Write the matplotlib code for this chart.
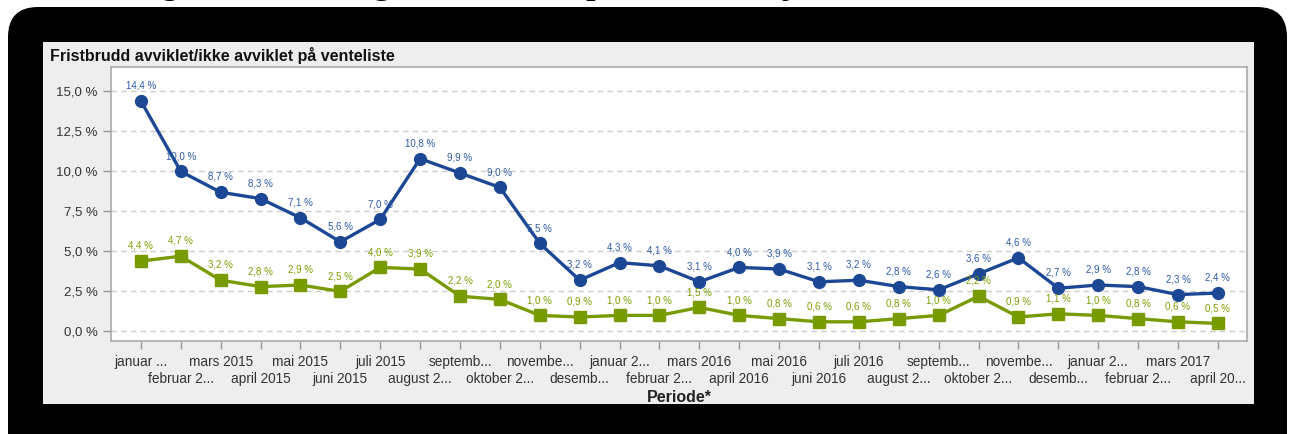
import matplotlib.pyplot as plt
from matplotlib.patches import FancyBboxPatch, Rectangle

plt.rcParams['font.family'] = ['Liberation Sans', 'DejaVu Sans']

perioder = ['januar ...', 'februar 2...', 'mars 2015', 'april 2015', 'mai 2015',
            'juni 2015', 'juli 2015', 'august 2...', 'septemb...', 'oktober 2...',
            'novembe...', 'desemb...', 'januar 2...', 'februar 2...', 'mars 2016',
            'april 2016', 'mai 2016', 'juni 2016', 'juli 2016', 'august 2...',
            'septemb...', 'oktober 2...', 'novembe...', 'desemb...', 'januar 2...',
            'februar 2...', 'mars 2017', 'april 20...']

ikke_avviklet = [14.4, 10.0, 8.7, 8.3, 7.1, 5.6, 7.0, 10.8, 9.9, 9.0, 5.5, 3.2, 4.3, 4.1,
                 3.1, 4.0, 3.9, 3.1, 3.2, 2.8, 2.6, 3.6, 4.6, 2.7, 2.9, 2.8, 2.3, 2.4]
avviklet = [4.4, 4.7, 3.2, 2.8, 2.9, 2.5, 4.0, 3.9, 2.2, 2.0, 1.0, 0.9, 1.0, 1.0,
            1.5, 1.0, 0.8, 0.6, 0.6, 0.8, 1.0, 2.2, 0.9, 1.1, 1.0, 0.8, 0.6, 0.5]

W, H = 1295, 434
fig = plt.figure(figsize=(W / 100, H / 100), dpi=100)
fig.patch.set_facecolor('white')


def px(x0, y0, x1, y1):
    # pixel box (top-left origin) -> figure fraction rect
    return [x0 / W, 1 - y1 / H, (x1 - x0) / W, (y1 - y0) / H]


# background layer in pixel units
bg = fig.add_axes([0, 0, 1, 1], zorder=0)
bg.set_xlim(0, W)
bg.set_ylim(H, 0)
bg.axis('off')
bg.add_patch(FancyBboxPatch((38, 37), 1287 - 38 - 30, 470 - 37 - 30,
                            boxstyle='round,pad=30', facecolor='black', edgecolor='none'))
bg.add_patch(Rectangle((43, 42), 1254 - 43, 404 - 42, facecolor='#eeeeee',
                       edgecolor='none'))

# page heading above the frame, only the descenders show
fig.text(45 / W, 1 + 6 / H, 'Utvikling i ventetider og fristbrudd i spesialisthelsetjenesten',
         fontsize=24, fontweight='bold', family='Liberation Serif',
         va='baseline', ha='left', color='black')

fig.text(50 / W, 1 - 55 / H, 'Fristbrudd avviklet/ikke avviklet på venteliste',
         fontsize=11.5, fontweight='bold', va='center', ha='left', color='#111111')

ax = fig.add_axes(px(111, 67, 1247, 341), zorder=2)
ax.set_facecolor('white')
x = list(range(len(perioder)))

blue = '#1c4795'
green = '#789c00'
ax.plot(x, ikke_avviklet, color=blue, lw=2.4, marker='o', ms=8.5, zorder=4)
ax.plot(x, avviklet, color=green, lw=2.4, marker='s', ms=9, zorder=3)

for xi, v in zip(x, ikke_avviklet):
    ax.annotate(f'{v:.1f} %'.replace('.', ','), (xi, v), xytext=(0, 11),
                textcoords='offset points', ha='center', va='center',
                fontsize=7, color='#2f5aa8', zorder=5)
for xi, v in zip(x, avviklet):
    ax.annotate(f'{v:.1f} %'.replace('.', ','), (xi, v), xytext=(0, 11),
                textcoords='offset points', ha='center', va='center',
                fontsize=7, color='#7c9e00', zorder=5)

ax.set_xlim(-0.75, 27.73)
ax.set_ylim(-0.6, 16.53)
yt = [0, 2.5, 5, 7.5, 10, 12.5, 15]
ax.set_yticks(yt)
ax.set_yticklabels([f'{v:.1f} %'.replace('.', ',') for v in yt], fontsize=9.5,
                   color='#333333')

# alternate month labels on two rows
ax.set_xticks(x[0::2])
ax.set_xticklabels(perioder[0::2], fontsize=9.8, color='#333333')
ax.set_xticks(x[1::2], minor=True)
ax.set_xticklabels(perioder[1::2], minor=True, fontsize=9.8, color='#333333')
ax.tick_params(axis='both', which='both', color='#999999', length=6, width=1)
ax.tick_params(axis='x', which='major', pad=4)
ax.tick_params(axis='x', which='minor', pad=16.5)
ax.grid(axis='y', color='#cccccc', ls=(0, (4, 3)), lw=1)
ax.set_axisbelow(True)
for s in ax.spines.values():
    s.set_color('#aaaaaa')
    s.set_linewidth(1.2)

fig.text(679 / W, 1 - 398 / H, 'Periode*', fontsize=11.5, fontweight='bold',
         ha='center', va='center', color='#222222')

fig.savefig('out.png', dpi=100, facecolor='white')
